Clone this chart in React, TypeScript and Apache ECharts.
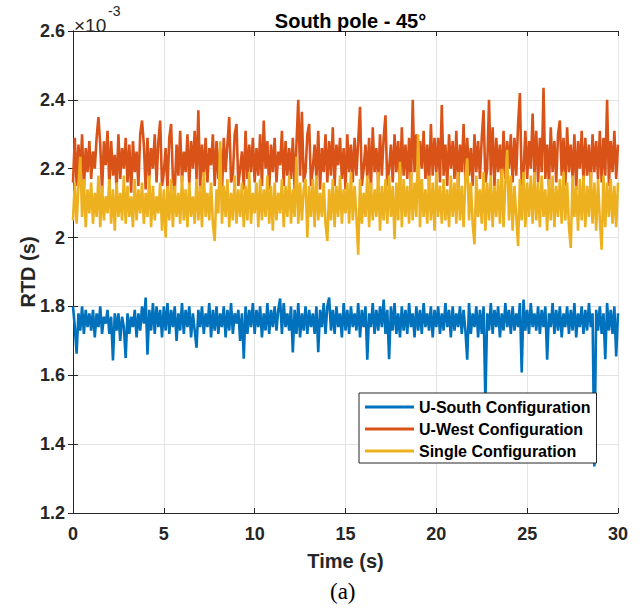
import React, { useEffect, useRef } from "react";
import * as echarts from "echarts";

// RTD values in units of 1e-3 s, sampled every 0.1 s from 0 to 30 s
const SAMPLE_STEP_S = 0.1;
const X_TICKS = [0, 5, 10, 15, 20, 25, 30];
const Y_TICKS = [1.2, 1.4, 1.6, 1.8, 2.0, 2.2, 2.4, 2.6];
const SERIES_NAMES = ["U-South Configuration", "U-West Configuration", "Single Configuration"];

const U_SOUTH = [
  1.80, 1.74, 1.663, 1.78, 1.73, 1.80, 1.72, 1.79, 1.74, 1.78,
  1.73, 1.79, 1.71, 1.78, 1.74, 1.80, 1.72, 1.77, 1.75, 1.79,
  1.72, 1.77, 1.643, 1.78, 1.73, 1.78, 1.70, 1.77, 1.74, 1.65,
  1.78, 1.72, 1.77, 1.74, 1.79, 1.71, 1.78, 1.73, 1.80, 1.75,
  1.826, 1.66, 1.79, 1.73, 1.81, 1.72, 1.80, 1.74, 1.79, 1.71,
  1.80, 1.73, 1.81, 1.72, 1.79, 1.74, 1.80, 1.70, 1.78, 1.73,
  1.81, 1.72, 1.79, 1.74, 1.80, 1.71, 1.78, 1.73, 1.68, 1.79,
  1.74, 1.80, 1.72, 1.78, 1.74, 1.81, 1.71, 1.79, 1.73, 1.80,
  1.72, 1.78, 1.74, 1.80, 1.71, 1.79, 1.73, 1.81, 1.72, 1.78,
  1.75, 1.79, 1.70, 1.78, 1.648, 1.80, 1.72, 1.79, 1.74, 1.81,
  1.72, 1.79, 1.74, 1.80, 1.71, 1.78, 1.73, 1.81, 1.72, 1.79,
  1.74, 1.80, 1.73, 1.79, 1.823, 1.72, 1.81, 1.74, 1.78, 1.73,
  1.80, 1.666, 1.79, 1.72, 1.81, 1.71, 1.78, 1.73, 1.80, 1.72,
  1.79, 1.74, 1.78, 1.72, 1.80, 1.667, 1.79, 1.74, 1.81, 1.72,
  1.80, 1.826, 1.73, 1.79, 1.72, 1.80, 1.74, 1.78, 1.71, 1.81,
  1.73, 1.79, 1.72, 1.80, 1.74, 1.78, 1.73, 1.81, 1.71, 1.79,
  1.74, 1.80, 1.645, 1.78, 1.74, 1.81, 1.72, 1.79, 1.73, 1.80,
  1.74, 1.82, 1.72, 1.79, 1.647, 1.80, 1.73, 1.81, 1.72, 1.78,
  1.71, 1.80, 1.73, 1.79, 1.72, 1.81, 1.74, 1.78, 1.71, 1.80,
  1.73, 1.79, 1.72, 1.81, 1.74, 1.78, 1.73, 1.80, 1.71, 1.79,
  1.74, 1.80, 1.72, 1.78, 1.73, 1.81, 1.74, 1.79, 1.71, 1.80,
  1.73, 1.78, 1.74, 1.80, 1.72, 1.79, 1.73, 1.645, 1.81, 1.72,
  1.78, 1.74, 1.80, 1.71, 1.79, 1.72, 1.80, 1.52, 1.78, 1.73,
  1.81, 1.72, 1.79, 1.74, 1.80, 1.71, 1.78, 1.73, 1.81, 1.74,
  1.79, 1.72, 1.80, 1.73, 1.78, 1.74, 1.81, 1.608, 1.82, 1.73,
  1.79, 1.72, 1.81, 1.74, 1.78, 1.73, 1.80, 1.72, 1.79, 1.74,
  1.80, 1.645, 1.78, 1.74, 1.81, 1.72, 1.79, 1.73, 1.80, 1.71,
  1.78, 1.74, 1.80, 1.72, 1.79, 1.73, 1.81, 1.71, 1.78, 1.74,
  1.80, 1.72, 1.79, 1.73, 1.81, 1.74, 1.78, 1.335, 1.79, 1.73,
  1.80, 1.72, 1.78, 1.647, 1.81, 1.73, 1.79, 1.72, 1.80, 1.655,
  1.78,
];

const U_WEST = [
  2.16, 2.29, 2.15, 2.27, 2.18, 2.30, 2.14, 2.26, 2.19, 2.28,
  2.17, 2.25, 2.20, 2.29, 2.35, 2.27, 2.13, 2.28, 2.21, 2.31,
  2.15, 2.28, 2.18, 2.24, 2.14, 2.30, 2.17, 2.26, 2.20, 2.29,
  2.16, 2.27, 2.13, 2.28, 2.19, 2.25, 2.15, 2.30, 2.34, 2.27,
  2.14, 2.29, 2.17, 2.26, 2.20, 2.30, 2.16, 2.28, 2.34, 2.15,
  2.19, 2.26, 2.14, 2.29, 2.33, 2.17, 2.13, 2.27, 2.18, 2.31,
  2.16, 2.25, 2.19, 2.30, 2.15, 2.28, 2.20, 2.31, 2.17, 2.37,
  2.14, 2.27, 2.18, 2.29, 2.16, 2.26, 2.21, 2.30, 2.15, 2.28,
  2.17, 2.26, 2.13, 2.29, 2.19, 2.27, 2.35, 2.16, 2.18, 2.30,
  2.33, 2.15, 2.20, 2.25, 2.14, 2.31, 2.17, 2.27, 2.19, 2.29,
  2.16, 2.26, 2.18, 2.30, 2.15, 2.34, 2.20, 2.28, 2.14, 2.27,
  2.19, 2.29, 2.16, 2.25, 2.21, 2.31, 2.15, 2.28, 2.18, 2.26,
  2.17, 2.29, 2.14, 2.27, 2.40, 2.18, 2.365, 2.16, 2.19, 2.30,
  2.33, 2.15, 2.20, 2.27, 2.17, 2.31, 2.14, 2.26, 2.19, 2.30,
  2.16, 2.28, 2.18, 2.32, 2.15, 2.27, 2.21, 2.29, 2.17, 2.26,
  2.14, 2.30, 2.19, 2.27, 2.16, 2.29, 2.18, 2.28, 2.38, 2.15,
  2.20, 2.27, 2.17, 2.29, 2.14, 2.32, 2.19, 2.26, 2.16, 2.30,
  2.18, 2.29, 2.355, 2.15, 2.20, 2.27, 2.16, 2.30, 2.19, 2.28,
  2.15, 2.32, 2.18, 2.27, 2.17, 2.29, 2.14, 2.40, 2.19, 2.30,
  2.16, 2.28, 2.20, 2.31, 2.17, 2.27, 2.15, 2.33, 2.18, 2.29,
  2.19, 2.29, 2.16, 2.385, 2.18, 2.27, 2.15, 2.30, 2.20, 2.28,
  2.17, 2.31, 2.14, 2.27, 2.19, 2.33, 2.16, 2.29, 2.18, 2.26,
  2.15, 2.30, 2.19, 2.28, 2.17, 2.29, 2.37, 2.16, 2.20, 2.40,
  2.18, 2.32, 2.15, 2.29, 2.19, 2.27, 2.16, 2.31, 2.17, 2.28,
  2.20, 2.30, 2.16, 2.29, 2.18, 2.33, 2.42, 2.15, 2.19, 2.31,
  2.17, 2.28, 2.20, 2.36, 2.18, 2.31, 2.16, 2.29, 2.19, 2.435,
  2.17, 2.27, 2.15, 2.32, 2.19, 2.28, 2.16, 2.30, 2.34, 2.18,
  2.29, 2.15, 2.32, 2.19, 2.27, 2.17, 2.30, 2.14, 2.28, 2.20,
  2.31, 2.16, 2.29, 2.18, 2.27, 2.15, 2.30, 2.19, 2.28, 2.17,
  2.31, 2.16, 2.29, 2.18, 2.40, 2.15, 2.28, 2.19, 2.31, 2.17,
  2.27,
];

const SINGLE = [
  2.05, 2.16, 2.04, 2.15, 2.235, 2.06, 2.17, 2.03, 2.14, 2.07,
  2.16, 2.04, 2.13, 2.06, 2.18, 2.03, 2.15, 2.05, 2.12, 2.07,
  2.17, 2.04, 2.14, 2.02, 2.16, 2.06, 2.13, 2.05, 2.18, 2.04,
  2.15, 2.06, 2.12, 2.03, 2.17, 2.05, 2.14, 2.07, 2.16, 2.04,
  2.13, 2.06, 2.18, 2.03, 2.15, 2.05, 2.12, 2.07, 2.16, 2.02,
  2.14, 2.00, 2.15, 2.05, 2.17, 2.03, 2.15, 2.06, 2.13, 2.04,
  2.18, 2.05, 2.14, 2.03, 2.16, 2.06, 2.12, 2.04, 2.17, 2.05,
  2.15, 2.03, 2.19, 2.06, 2.13, 2.05, 2.16, 2.04, 1.99, 2.14,
  2.07, 2.28, 2.04, 2.15, 2.06, 2.17, 2.03, 2.13, 2.05, 2.18,
  2.04, 2.14, 2.06, 2.16, 2.03, 2.15, 2.05, 2.19, 2.04, 2.13,
  2.07, 2.16, 2.03, 2.17, 2.05, 2.14, 2.06, 2.18, 2.04, 2.15,
  2.02, 2.16, 2.05, 2.13, 2.07, 2.17, 2.03, 2.15, 2.06, 2.18,
  2.04, 2.14, 2.06, 2.235, 2.04, 2.16, 2.05, 2.14, 2.17, 2.00,
  2.15, 2.06, 2.17, 2.03, 2.18, 2.05, 2.13, 2.06, 2.16, 2.04,
  1.99, 2.14, 2.05, 2.17, 2.03, 2.15, 2.06, 2.18, 2.04, 2.14,
  2.07, 2.16, 2.04, 2.19, 2.05, 2.15, 2.06, 1.95, 2.17, 2.04,
  2.13, 2.06, 2.18, 2.03, 2.16, 2.05, 2.14, 2.06, 2.19, 2.02,
  2.15, 2.05, 2.17, 2.04, 2.18, 2.06, 2.15, 1.995, 2.16, 2.05,
  2.22, 2.03, 2.17, 2.06, 2.15, 2.04, 2.19, 2.05, 2.16, 2.06,
  2.30, 2.03, 2.17, 2.06, 2.14, 2.04, 2.18, 2.05, 2.16, 2.02,
  2.19, 2.06, 2.15, 2.04, 2.17, 2.05, 2.14, 2.03, 2.18, 2.06,
  2.16, 2.04, 2.19, 2.05, 2.15, 2.03, 2.17, 2.23, 2.05, 2.16,
  2.04, 1.98, 2.18, 2.06, 2.14, 2.04, 2.19, 2.02, 2.16, 2.05,
  2.18, 2.03, 2.15, 2.06, 2.17, 2.04, 2.20, 2.03, 2.16, 2.255,
  2.05, 2.18, 2.02, 2.15, 2.06, 1.975, 2.17, 2.05, 2.19, 2.03,
  2.16, 2.06, 2.18, 2.04, 2.19, 2.05, 2.16, 2.03, 2.18, 2.06,
  2.14, 2.02, 2.17, 2.05, 2.18, 2.03, 2.15, 2.06, 2.17, 2.04,
  2.19, 2.05, 2.16, 2.03, 1.97, 2.18, 2.06, 2.15, 2.02, 2.17,
  2.05, 2.18, 2.03, 2.15, 2.06, 2.19, 2.04, 2.16, 2.02, 2.17,
  2.05, 1.965, 2.18, 2.03, 2.16, 2.06, 2.17, 2.04, 2.15, 2.03,
  2.16,
];

const COLORS = ["#0072BD", "#D95319", "#EDB120"];
const FONT = "'Liberation Sans', Arial, Helvetica, sans-serif";
const AXIS_COLOR = "#262626";

const toPairs = (vals: number[]) => vals.map((v, i) => [Math.round(i * SAMPLE_STEP_S * 10) / 10, v]);

export default function App() {
  const ref = useRef<HTMLDivElement>(null);
  useEffect(() => {
    if (!ref.current) return;
    const chart = echarts.init(ref.current, null, { renderer: "svg" });
    const gridL = 73, gridR = 25, gridT = 31, gridB = 95;
    const xMin = X_TICKS[0], xMax = X_TICKS[X_TICKS.length - 1];
    const yMin = Y_TICKS[0], yMax = Y_TICKS[Y_TICKS.length - 1];
    const commonAxisLine = { show: true, lineStyle: { color: AXIS_COLOR, width: 1 } };
    const tickIn = { show: true, inside: true, length: 5, lineStyle: { color: AXIS_COLOR } };
    const datasets = [U_SOUTH, U_WEST, SINGLE];
    chart.setOption({
      animation: false,
      backgroundColor: "#ffffff",
      title: {
        text: "South pole - 45°",
        left: 345.5,
        textAlign: "center",
        top: 6,
        textStyle: { fontFamily: FONT, fontSize: 20, fontWeight: "bold", color: "#000" },
      },
      grid: { left: gridL, right: gridR, top: gridT, bottom: gridB, containLabel: false },
      xAxis: [
        {
          type: "value",
          min: xMin,
          max: xMax,
          interval: 5,
          position: "bottom",
          name: "Time (s)",
          nameLocation: "middle",
          nameGap: 38,
          nameMoveOverlap: false,
          nameTextStyle: { fontFamily: FONT, fontSize: 20, fontWeight: "bold", color: AXIS_COLOR },
          axisLine: commonAxisLine,
          axisTick: tickIn,
          axisLabel: { margin: 12, fontFamily: FONT, fontSize: 18, fontWeight: "bold", color: AXIS_COLOR },
          splitLine: { show: true, lineStyle: { color: "#e3e3e3", width: 1 } },
        },
        {
          type: "value",
          min: xMin,
          max: xMax,
          interval: 5,
          position: "top",
          axisLine: commonAxisLine,
          axisTick: tickIn,
          axisLabel: { show: false },
          splitLine: { show: false },
        },
      ],
      yAxis: [
        {
          type: "value",
          min: yMin,
          max: yMax,
          interval: 0.2,
          position: "left",
          name: "RTD (s)",
          nameLocation: "middle",
          nameGap: 35,
          nameMoveOverlap: false,
          nameTextStyle: { fontFamily: FONT, fontSize: 20, fontWeight: "bold", color: AXIS_COLOR },
          axisLine: commonAxisLine,
          axisTick: tickIn,
          axisLabel: {
            margin: 8,
            fontFamily: FONT,
            fontSize: 18,
            fontWeight: "bold",
            color: AXIS_COLOR,
            formatter: (v: number) => String(Math.round(v * 10) / 10),
          },
          splitLine: { show: true, lineStyle: { color: "#e3e3e3", width: 1 } },
        },
        {
          type: "value",
          min: yMin,
          max: yMax,
          interval: 0.2,
          position: "right",
          axisLine: commonAxisLine,
          axisTick: tickIn,
          axisLabel: { show: false },
          splitLine: { show: false },
        },
      ],
      legend: {
        orient: "vertical",
        left: 359,
        top: 393,
        data: SERIES_NAMES.map((n) => ({ name: n, icon: "rect" })),
        itemWidth: 49,
        itemHeight: 3,
        itemGap: 4,
        padding: [5, 6, 3, 6],
        backgroundColor: "#ffffff",
        borderColor: AXIS_COLOR,
        borderWidth: 1,
        borderRadius: 0,
        textStyle: { fontFamily: FONT, fontSize: 16, fontWeight: "bold", color: "#000", lineHeight: 18 },
        selectedMode: false,
      },
      graphic: [
        {
          type: "text",
          x: 74,
          y: 16,
          style: {
            text: "×10",
            font: "19px 'Liberation Sans', Arial, sans-serif",
            fill: AXIS_COLOR,
          },
        },
        {
          type: "text",
          x: 108,
          y: 4,
          style: {
            text: "-3",
            font: "14px 'Liberation Sans', Arial, sans-serif",
            fill: AXIS_COLOR,
          },
        },
        {
          type: "text",
          x: 330,
          y: 580,
          style: {
            text: "(a)",
            font: "23px 'Liberation Serif', 'Times New Roman', serif",
            fill: "#000",
          },
        },
      ],
      series: datasets.map((vals, k) => ({
        name: SERIES_NAMES[k],
        type: "line",
        xAxisIndex: 0,
        yAxisIndex: 0,
        data: toPairs(vals),
        showSymbol: false,
        symbol: "none",
        lineStyle: { color: COLORS[k], width: 2.6, join: "miter" },
        itemStyle: { color: COLORS[k] },
        z: 2 + k * 0.1,
      })),
    });
    return () => chart.dispose();
  }, []);
  return (
    <div
      ref={ref}
      style={{ position: "absolute", left: 0, top: 0, width: 643, height: 608 }}
    />
  );
}
